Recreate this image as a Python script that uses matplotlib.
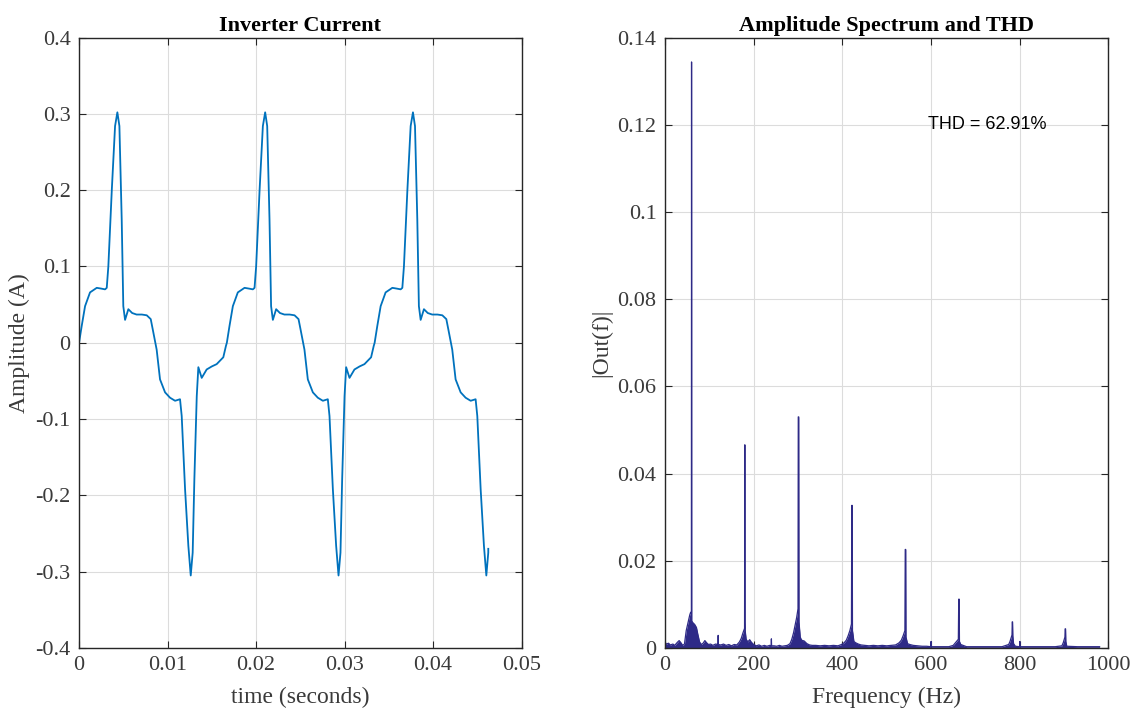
import numpy as np
import matplotlib.pyplot as plt

plt.rcParams['font.family'] = ['Liberation Serif', 'DejaVu Serif']
plt.rcParams['mathtext.fontset'] = 'stix'

# ---- inverter current, one cycle (seconds, A) ----
t_cycle = [0.0, 0.0003, 0.00068, 0.00124, 0.0020, 0.0025, 0.00294, 0.00313,
           0.00331, 0.0037, 0.00407, 0.00433, 0.00456, 0.00482, 0.0050,
           0.0052, 0.00557, 0.0060, 0.0065, 0.0071, 0.00765, 0.0081,
           0.00832, 0.00877, 0.00915, 0.00972, 0.01028, 0.01085, 0.01141,
           0.0116, 0.01198, 0.01235, 0.01262, 0.01284, 0.01303, 0.0133,
           0.01348, 0.01386, 0.01442, 0.0150, 0.01555, 0.0163, 0.0166]
i_cycle = [0.0, 0.022, 0.048, 0.066, 0.072, 0.071, 0.070, 0.072,
           0.100, 0.200, 0.284, 0.302, 0.284, 0.162, 0.048,
           0.030, 0.044, 0.039, 0.037, 0.037, 0.036, 0.031,
           0.018, -0.009, -0.048, -0.065, -0.072, -0.076, -0.074,
           -0.096, -0.192, -0.266, -0.305, -0.275, -0.179, -0.070,
           -0.032, -0.046, -0.035, -0.031, -0.028, -0.019, -0.004]
cycle_start = [0.0, 0.0167, 0.0334]
t_end = 0.04624

# ---- amplitude spectrum (Hz, |Out(f)|) ----
freq = [0, 3, 8, 12, 18, 22, 28, 32, 36, 40, 44, 48, 52, 56, 58, 59.6, 60, 60.4,
        63, 67, 71, 74, 78, 82, 86, 90, 94, 98, 103, 108, 114, 119.6, 120, 120.4,
        126, 132, 138, 144, 150, 156, 162, 168, 172, 176, 179.5, 180.1, 180.5, 180.9,
        183, 187, 191, 195, 200, 206, 212, 218, 224, 230, 236, 239.6, 240, 240.4,
        246, 252, 258, 264, 270, 276, 282, 286, 290, 294, 297, 300, 300.6, 301.6, 302.2,
        305, 308, 314, 320, 326, 332, 340, 350, 360, 370, 380, 390, 398, 404, 409,
        413, 417, 420.5, 421.2, 422.2, 422.8, 426, 430, 436, 442, 450, 460, 470, 480,
        490, 500, 510, 520, 528, 533, 537, 541, 541.8, 542.8, 543.4, 547, 552, 560,
        570, 580, 590, 599.6, 600, 600.4, 610, 620, 630, 640, 650, 655, 661.5, 662.4,
        663.4, 664, 667, 672, 680, 700, 720, 740, 760, 775, 778, 782.5, 783.1, 783.7,
        784.3, 786, 790, 799.6, 800, 800.4, 820, 850, 880, 895, 898, 901.8, 902.4,
        903.2, 903.8, 906, 930, 960, 980]
amp = [0.0014, 0.0009, 0.0011, 0.0007, 0.0009, 0.0006, 0.0013, 0.0017, 0.0012, 0.0006,
       0.0009, 0.0040, 0.0058, 0.0076, 0.0082, 0.0080, 0.1344, 0.0062,
       0.0058, 0.0054, 0.0047, 0.0032, 0.0014, 0.0008, 0.0011, 0.0017, 0.0012, 0.0008,
       0.0009, 0.0006, 0.0009, 0.0008, 0.0029, 0.0008,
       0.0007, 0.0009, 0.0006, 0.0008, 0.0005, 0.0008, 0.0007, 0.0014, 0.0022, 0.0035,
       0.0045, 0.0466, 0.0060, 0.0040,
       0.0020, 0.0014, 0.0019, 0.0013, 0.0008, 0.0005, 0.0007, 0.0004, 0.0006, 0.0004,
       0.0006, 0.0005, 0.0021, 0.0005,
       0.0005, 0.0004, 0.0006, 0.0004, 0.0005, 0.0006, 0.0010, 0.0020, 0.0035, 0.0055,
       0.0070, 0.0090, 0.0530, 0.0530, 0.0060,
       0.0025, 0.0018, 0.0016, 0.0010, 0.0007, 0.0006, 0.0006, 0.0005, 0.0006, 0.0005,
       0.0006, 0.0005, 0.0008, 0.0012, 0.0018,
       0.0028, 0.0040, 0.0055, 0.0327, 0.0327, 0.0040, 0.0015, 0.0012, 0.0009, 0.0007,
       0.0006, 0.0005, 0.0006, 0.0005,
       0.0006, 0.0005, 0.0006, 0.0007, 0.0012, 0.0018, 0.0028, 0.0040, 0.0226, 0.0226,
       0.0025, 0.0010, 0.0008, 0.0006,
       0.0005, 0.0004, 0.0004, 0.0003, 0.0015, 0.0003, 0.0003, 0.0003, 0.0003, 0.0003,
       0.0006, 0.0012, 0.0020, 0.0112,
       0.0112, 0.0015, 0.0008, 0.0006, 0.0003, 0.0003, 0.0003, 0.0003, 0.0003, 0.0008,
       0.0015, 0.0030, 0.0060, 0.0060,
       0.0028, 0.0010, 0.0004, 0.0003, 0.0015, 0.0003, 0.0003, 0.0003, 0.0003, 0.0005,
       0.0012, 0.0025, 0.0044,
       0.0044, 0.0015, 0.0004, 0.0003, 0.0003, 0.0003]
thd_text = 'THD = 62.91%'

line_blue = '#0072BD'
navy = '#2E2A87'
axcol = '#262626'
labcol = '#3a3a3a'


def matlab_axes(ax):
    ax.grid(True, color='#dcdcdc', lw=0.8)
    ax.set_axisbelow(True)
    ax.tick_params(direction='in', top=True, right=True, length=5,
                   labelsize=16, colors=axcol, labelcolor=labcol, pad=6)
    for s in ax.spines.values():
        s.set_color(axcol)
        s.set_linewidth(1.0)


fig = plt.figure(figsize=(11.39, 7.11), dpi=100)
ax1 = fig.add_axes([0.0694, 0.0886, 0.3885, 0.8586])
ax2 = fig.add_axes([0.5838, 0.0886, 0.3894, 0.8586])

# left: three cycles of the current
tt = []
ii = []
for c0 in cycle_start:
    for t, v in zip(t_cycle, i_cycle):
        if c0 + t <= t_end:
            tt.append(c0 + t)
            ii.append(v)
tt.append(t_end)
ii.append(-0.27)
ax1.plot(tt, ii, color=line_blue, lw=1.3)
ax1.set_xlim(0, 0.05)
ax1.set_ylim(-0.4, 0.4)
ax1.set_xticks([0, 0.01, 0.02, 0.03, 0.04, 0.05])
ax1.set_xticklabels(['0', '0.01', '0.02', '0.03', '0.04', '0.05'])
ax1.set_yticks(np.arange(-0.4, 0.41, 0.1))
ax1.set_yticklabels(['-0.4', '-0.3', '-0.2', '-0.1', '0', '0.1', '0.2', '0.3', '0.4'])
matlab_axes(ax1)
ax1.set_title('Inverter Current', fontsize=16, fontweight='bold', pad=5)
ax1.set_xlabel('time (seconds)', fontsize=17, color=labcol, labelpad=8)
ax1.set_ylabel('Amplitude (A)', fontsize=17, color=labcol)

# right: spectrum
ax2.fill_between(freq, amp, 0, color=navy, lw=0)
ax2.plot(freq, amp, color=navy, lw=0.9)
ax2.set_xlim(0, 1000)
ax2.set_ylim(0, 0.14)
ax2.set_xticks([0, 200, 400, 600, 800, 1000])
ax2.set_yticks([0, 0.02, 0.04, 0.06, 0.08, 0.1, 0.12, 0.14])
ax2.set_yticklabels(['0', '0.02', '0.04', '0.06', '0.08', '0.1', '0.12', '0.14'])
matlab_axes(ax2)
ax2.text(592, 0.12, thd_text, fontsize=13, va='center', ha='left',
         family=['Liberation Sans', 'DejaVu Sans'], color='black')
ax2.set_title('Amplitude Spectrum and THD', fontsize=16, fontweight='bold', pad=5)
ax2.set_xlabel('Frequency (Hz)', fontsize=17, color=labcol, labelpad=8)
ax2.set_ylabel('|Out(f)|', fontsize=17, color=labcol)

fig.savefig('out.png', dpi=100)
